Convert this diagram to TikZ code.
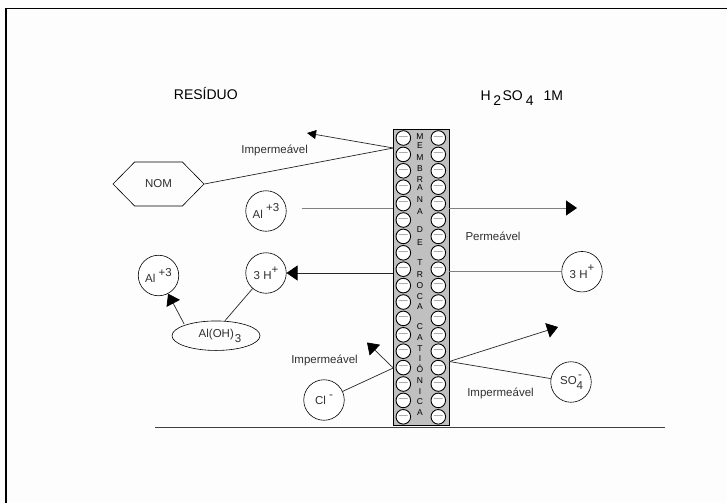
\documentclass[tikz,border=0pt]{standalone}
\usepackage{fontspec}
\setmainfont{Liberation Sans}
\usetikzlibrary{positioning, arrows.meta, shapes.geometric, shapes.symbols}
\definecolor{PageWht} {HTML}{fdfdfd}
\definecolor{MemGry}  {HTML}{c0c0c0}
\definecolor{LineGry} {HTML}{808080}
\definecolor{TextGry} {HTML}{303030}
\definecolor{SignGry} {HTML}{707070}
\newcommand{\lift}[1]{\raisebox{6.5pt}{#1}}
\newcommand{\drop}[1]{\raisebox{-5pt}{#1}}

\begin{document}
\begin{tikzpicture}[
  x=1pt, y=-1pt,
  font=\fontsize{11.5}{13}\selectfont, text=TextGry,
  >={Triangle[length=11pt, width=15pt, color=black, fill=black]},
  every node/.style={align=center},
  ion/.style    = {draw, fill=white, circle, inner sep=0pt, minimum size=40.5pt, line width=0.6pt},
  charge/.style = {draw, fill=white, circle, inner sep=0pt, minimum size=14.6pt, line width=0.9pt,
                   font=\fontsize{9}{9}\selectfont, text=SignGry},
  letra/.style  = {font=\fontsize{8.5}{8.5}\selectfont, inner sep=0pt, text=black},
  head/.style   = {font=\fontsize{14}{16}\selectfont, text=black, inner sep=0pt},
  link/.style   = {line width=0.7pt, draw=black!85},
  glink/.style  = {line width=1pt, draw=LineGry},
]
\path[fill=PageWht, use as bounding box] (0,0) rectangle (727,503);

% ── Frame and base line ──────────────────────────────────────────────────────
\coordinate (fa) at (6,503);
\coordinate (fb) at (6,8.5);
\coordinate (fc) at (727,8.5);
\draw[line width=1.8pt, miter limit=2] (fa) -- (fb) -- (fc);
\coordinate (ba) at (155,427);
\coordinate (bb) at (664.6,427);
\draw[line width=0.9pt, black!75] (ba) -- (bb);

% ── Membrane ─────────────────────────────────────────────────────────────────
\node[draw, fill=MemGry, line width=0.8pt, inner sep=0pt,
      minimum width=56pt, minimum height=295.5pt] (mem) at (421.3,277.25) {};
\foreach \k [evaluate=\k as \yy using 138+16.4*\k] in {0,...,17}{
  \node[charge] (nl\k) at (403.3,\yy) {—};
  \node[charge] (nr\k) at (438.3,\yy) {—};
}
\foreach \y/\c [count=\i] in {136.7/M,146/E,158/M,169/B,180/R,188/A,200/N,212/A,
    230/D,243/E,263/T,275/R,286/O,297/C,307/A,327/C,338/A,349/T,359/I,369/Ô,
    381/N,392/I,402/C,413/A}{
  \node[letra] (le\i) at (420,\y) {\c};
}

% ── Headings ─────────────────────────────────────────────────────────────────
\node[head] (res) at (205.8,93) {RESÍDUO};
\node[head, anchor=base west] (acid) at (480.5,100)
  {H\kern2.5pt\drop{2}\kern1.5ptSO\kern3pt\drop{4}\kern10pt 1M};

% ── Species ──────────────────────────────────────────────────────────────────
\node[draw, shape=signal, signal to=east and west, signal pointer angle=91,
      inner sep=0pt, minimum width=91pt, minimum height=44pt, line width=0.6pt]
  (nom) at (158.5,184) {NOM};
\node[ion] (al)   at (266,211)   {Al \lift{+3}};
\node[ion] (hl)   at (266,273)   {3 H\lift{+}};
\node[ion] (alb)  at (158.5,275.5) {Al \lift{+3}};
\node[draw, ellipse, inner sep=0pt, minimum width=88pt, minimum height=29.5pt, line width=0.6pt]
  (aloh) at (216,335.7) {\hspace{8pt}Al(OH)\kern1pt\drop{3}};
\node[ion] (cl)   at (324,400)   {Cl \lift{-}};
\node[ion] (hr)   at (582,271.7) {3 H\lift{+}};
\node[ion] (so)   at (571,382)   {\hspace{2pt}SO\drop{4}\kern-5pt\lift{-}\hspace{2pt}};

% ── Labels ───────────────────────────────────────────────────────────────────
\node (imp1) at (274.7,150)   {Impermeável};
\node (imp2) at (324.5,360.7) {Impermeável};
\node (imp3) at (500.5,393)   {Impermeável};
\node (perm) at (493,236.7)   {Permeável};

% ── Free ends ────────────────────────────────────────────────────────────────
\coordinate (pnom)  at (393.3,148);
\coordinate (tnom)  at (307,133);
\coordinate (alout) at (301.5,208.7);
\coordinate (alin)  at (393.3,208.7);
\coordinate (alex)  at (449.3,208);
\coordinate (altip) at (577,208);
\coordinate (hin)   at (449.3,271.7);
\coordinate (hex)   at (393.3,273);
\coordinate (pcl)   at (393.3,368);
\coordinate (tcl)   at (367,342.5);
\coordinate (pso)   at (449.3,361.5);
\coordinate (tso)   at (558,327);

% ── Connectors ───────────────────────────────────────────────────────────────
\draw[link] (nom.east) -- (pnom);
\draw[-{Triangle[length=9pt, width=9pt, color=black, fill=black]}, link] (pnom) -- (tnom);
\draw[glink] (alout) -- (alin);
\draw[->, glink] (alex) -- (altip);
\draw[glink] (hr) -- (hin);
\draw[->, link] (hex) -- (hl);
\draw[link] (aloh.north) ++(9,0) -- (hl);
\draw[->, link] (aloh.north west) ++(-0.5,-1) -- (alb);
\draw[link] (cl) -- (pcl);
\draw[->, link] (pcl) -- (tcl);
\draw[link] (so) -- (pso);
\draw[->, link] (pso) -- (tso);

\end{tikzpicture}
\end{document}
